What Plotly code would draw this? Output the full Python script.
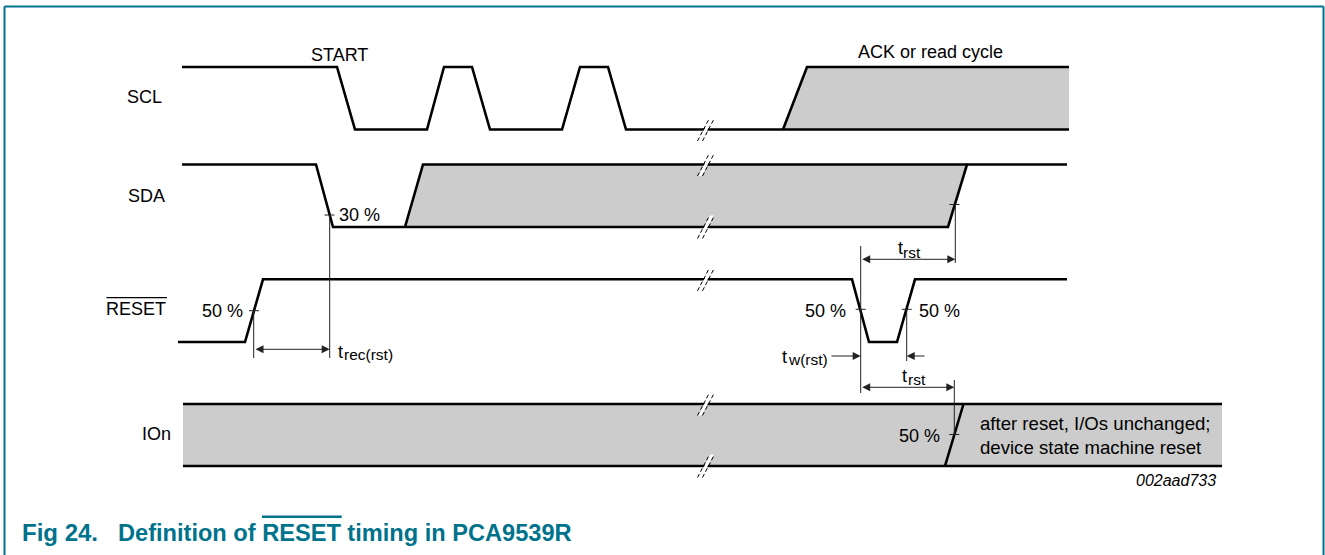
import plotly.graph_objects as go

W, H = 1325, 555
TEAL = "#00738C"
GRAY = "#cccccc"
FONT = "Liberation Sans, Arial, sans-serif"

# ---- lanes: (y of high level, y of low level) ----
LANE_SCL = (67.0, 129.5)
LANE_SDA = (164.5, 227.0)
LANE_RST = (279.3, 342.0)
LANE_ION = (404.0, 466.0)

# ---- waveforms: time positions and logic levels ----
SCL_T = [182, 337, 355, 427, 444, 472, 490, 562, 580, 608, 626, 1069]
SCL_L = [1, 1, 0, 0, 1, 1, 0, 0, 1, 1, 0, 0]
SCL_BUS_T = [783, 807, 1069]
SCL_BUS_L = [0, 1, 1]
SCL_FILL_T = [783, 807, 1069, 1069]
SCL_FILL_L = [0, 1, 1, 0]

SDA_T = [182, 316, 333, 948, 967, 1067]
SDA_L = [1, 1, 0, 0, 1, 1]
SDA_BUS_T = [405, 423, 967]
SDA_BUS_L = [0, 1, 1]
SDA_FILL_T = [405, 423, 967, 948]
SDA_FILL_L = [0, 1, 1, 0]

RST_T = [178, 245, 263, 852, 869, 897, 915, 1067]
RST_L = [0, 0, 1, 1, 0, 0, 1, 1]

ION_T = [183, 1222]
ION_FILL_T = [183, 1222, 1222, 183]
ION_FILL_L = [1, 1, 0, 0]
ION_EDGE_T = [945, 963.5]
ION_EDGE_L = [0, 1]

# ---- break marks (x position, lane, level) ----
BREAK_X = 706.5
BREAKS = [(LANE_SCL, 0), (LANE_SDA, 1), (LANE_SDA, 0),
          (LANE_RST, 1), (LANE_ION, 1), (LANE_ION, 0)]

# ---- threshold ticks (x, y) ----
TICKS = [(329.5, 215.0), (954.5, 204.5), (254.0, 310.7),
         (860.7, 309.3), (906.7, 309.3), (954.3, 434.5)]

# ---- dimension (reference) vertical lines: x, y_top, y_bottom ----
VLINES = [(329.7, 215.0, 358.0), (253.7, 310.7, 358.0),
          (955.3, 204.5, 263.0), (860.7, 246.0, 393.0),
          (906.7, 309.3, 361.0), (954.3, 380.0, 434.5)]

# ---- arrows: (head x, tail x, y, both ends) ----
ARROWS = [(329.7, 254.0, 349.3, True),
          (955.3, 860.7, 259.3, True),
          (954.3, 860.7, 387.3, True),
          (860.7, 830.0, 356.0, False),
          (906.7, 926.0, 356.0, False)]


def ymap(levels, lane):
    hi, lo = lane
    return [lo + l * (hi - lo) for l in levels]


fig = go.Figure()


def poly(xs, ys, color):
    fig.add_trace(go.Scatter(x=xs + [xs[0]], y=ys + [ys[0]], mode="lines",
                             fill="toself", fillcolor=color,
                             line=dict(width=0, color=color),
                             hoverinfo="skip", showlegend=False))


def path(xs, ys, width=2.6, color="black", dash=None):
    fig.add_trace(go.Scatter(x=xs, y=ys, mode="lines",
                             line=dict(width=width, color=color, dash=dash),
                             hoverinfo="skip", showlegend=False))


# grey bus regions
poly(SCL_FILL_T, ymap(SCL_FILL_L, LANE_SCL), GRAY)
poly(SDA_FILL_T, ymap(SDA_FILL_L, LANE_SDA), GRAY)
poly(ION_FILL_T, ymap(ION_FILL_L, LANE_ION), GRAY)

# signal lines
path(SCL_T, ymap(SCL_L, LANE_SCL))
path(SCL_BUS_T, ymap(SCL_BUS_L, LANE_SCL))
path(SDA_T, ymap(SDA_L, LANE_SDA))
path(SDA_BUS_T, ymap(SDA_BUS_L, LANE_SDA))
path(RST_T, ymap(RST_L, LANE_RST))
path(ION_T, ymap([1, 1], LANE_ION))
path(ION_T, ymap([0, 0], LANE_ION))
path(ION_EDGE_T, ymap(ION_EDGE_L, LANE_ION))

# break marks
wx, wy, lx, ly = [], [], [], []
for lane, lev in BREAKS:
    cy = ymap([lev], lane)[0]
    cx = BREAK_X
    a1, a2 = (cx - 9, cy + 11.5), (cx + 3, cy - 11.5)
    b1, b2 = (cx - 4, cy + 11.5), (cx + 8, cy - 11.5)
    wx += [a1[0] + 0.8, a2[0] + 0.8, b2[0] - 0.8, b1[0] - 0.8, a1[0] + 0.8, None]
    wy += [a1[1], a2[1], b2[1], b1[1], a1[1], None]
    lx += [a1[0], a2[0], None, b1[0], b2[0], None]
    ly += [a1[1], a2[1], None, b1[1], b2[1], None]
fig.add_trace(go.Scatter(x=wx, y=wy, mode="lines", fill="toself",
                         fillcolor="white", line=dict(width=0, color="white"),
                         hoverinfo="skip", showlegend=False))
path(lx, ly, width=1, dash="4px,2.5px")

# ticks and reference lines
tx, ty = [], []
for x, y in TICKS:
    tx += [x - 5, x + 5, None]
    ty += [y, y, None]
for x, y0, y1 in VLINES:
    tx += [x, x, None]
    ty += [y0, y1, None]
path(tx, ty, width=1, color="#222")

ann = []
for hx, tx_, y, both in ARROWS:
    ann.append(dict(x=hx, y=y, ax=tx_, ay=y, xref="x", yref="y",
                    axref="x", ayref="y", text="", showarrow=True,
                    arrowhead=2, startarrowhead=2, arrowsize=1.6,
                    startarrowsize=1.6, arrowwidth=1, arrowcolor="#222",
                    arrowside="end+start" if both else "end", standoff=0,
                    startstandoff=0))


def txt(x, y, s, size=18, xanchor="left", color="black", bold=False,
        italic=False, family=FONT):
    if bold:
        s = "<b>" + s + "</b>"
    if italic:
        s = "<i>" + s + "</i>"
    ann.append(dict(x=x, y=y, xref="x", yref="y", text=s, showarrow=False,
                    xanchor=xanchor, yanchor="middle", borderpad=0,
                    font=dict(size=size, color=color, family=family)))


# lane labels
txt(163, 97.3, "SCL", xanchor="right")
txt(166, 196, "SDA", xanchor="right")
txt(167, 308.7, "RESET", xanchor="right")
txt(172, 434.3, "IOn", xanchor="right")

txt(339, 55, "START", xanchor="center")
txt(930, 51.7, "ACK or read cycle", xanchor="center")

txt(338, 215.3, "30 %")
txt(244.3, 310.8, "50 %", xanchor="right")
txt(847.3, 311, "50 %", xanchor="right")
txt(918.3, 311, "50 %")
txt(940.7, 435.7, "50 %", xanchor="right")

# timing symbols with subscripts
txt(337.3, 351.8, "t")
txt(343, 354.8, "rec(rst)", size=15.5)
txt(781, 356.5, "t")
txt(786.5, 359, "w(rst)", size=15.5)
txt(896.7, 247.8, "t")
txt(902, 252.1, "rst", size=15.5)
txt(901, 375.5, "t")
txt(906.5, 379.8, "rst", size=15.5)

txt(979, 423.8, "after reset, I/Os unchanged;", size=18.6)
txt(979, 447.8, "device state machine reset", size=18.6)
txt(1217, 480, "002aad733", size=16, xanchor="right", italic=True)

# caption
txt(20.7, 532.5, "Fig 24.", size=24, color=TEAL, bold=True)
txt(116.7, 532.5, "Definition of RESET timing in PCA9539R", size=23.6,
    color=TEAL, bold=True)

shapes = [
    # frame
    dict(type="line", x0=4.5, x1=4.5, y0=6.5, y1=H + 5, xref="x", yref="y",
         line=dict(color=TEAL, width=2)),
    dict(type="line", x0=4.5, x1=1323.5, y0=6.5, y1=6.5, xref="x", yref="y",
         line=dict(color=TEAL, width=2)),
    dict(type="line", x0=1323.5, x1=1323.5, y0=6.5, y1=H + 5, xref="x",
         yref="y", line=dict(color=TEAL, width=2)),
    # overlines
    dict(type="line", x0=106.5, x1=167, y0=297.7, y1=297.7, xref="x",
         yref="y", line=dict(color="black", width=1.3)),
    dict(type="line", x0=262, x1=341.7, y0=516.7, y1=516.7, xref="x",
         yref="y", line=dict(color=TEAL, width=2.6)),
]

fig.update_layout(
    width=W, height=H, margin=dict(l=0, r=0, t=0, b=0),
    paper_bgcolor="white", plot_bgcolor="white",
    xaxis=dict(range=[0, W], visible=False, fixedrange=True),
    yaxis=dict(range=[H, 0], visible=False, fixedrange=True),
    annotations=ann, shapes=shapes, showlegend=False,
)

fig.write_html(
    "out.html",
    config={"displayModeBar": False, "staticPlot": True},
    post_script="document.body.style.margin='0';"
                "document.body.style.padding='0';"
                "document.body.style.overflow='hidden';",
)
